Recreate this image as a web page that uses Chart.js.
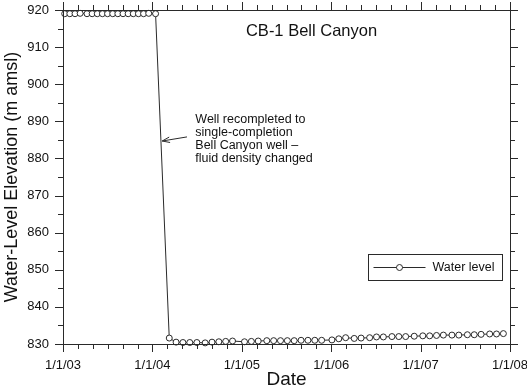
<!DOCTYPE html>
<html>
<head>
<meta charset="utf-8">
<script src="https://cdn.jsdelivr.net/npm/chart.js@4.4.1/dist/chart.umd.min.js"></script>
<style>
  html, body { margin: 0; padding: 0; background: #fff; }
  #wrap { width: 527px; height: 389px; }
</style>
</head>
<body>
<div id="wrap"><canvas id="myChart" width="527" height="389"></canvas></div>
<script>
// mérési dátumok és vízszintek (m amsl)
const dates = [
  "2003-01-08", "2003-01-29", "2003-02-19", "2003-03-12", "2003-04-09", "2003-04-30",
  "2003-05-21", "2003-06-11", "2003-07-02", "2003-07-23", "2003-08-13", "2003-09-03",
  "2003-09-24", "2003-10-15", "2003-11-05", "2003-11-26", "2003-12-17", "2004-01-14",
  "2004-03-10", "2004-04-07", "2004-05-05", "2004-06-02", "2004-07-01", "2004-08-04",
  "2004-09-01", "2004-09-29", "2004-10-27", "2004-11-24", "2005-01-12", "2005-02-09",
  "2005-03-09", "2005-04-13", "2005-05-11", "2005-06-08", "2005-07-06", "2005-08-03",
  "2005-08-31", "2005-09-28", "2005-10-26", "2005-11-23", "2006-01-04", "2006-02-01",
  "2006-03-01", "2006-04-05", "2006-05-03", "2006-06-07", "2006-07-05", "2006-08-02",
  "2006-09-06", "2006-10-04", "2006-11-01", "2006-12-06", "2007-01-10", "2007-02-07",
  "2007-03-07", "2007-04-04", "2007-05-09", "2007-06-06", "2007-07-11", "2007-08-08",
  "2007-09-05", "2007-10-10", "2007-11-07", "2007-12-05"
];
const waterLevel = [
  919.0, 919.0, 919.0, 919.1, 919.0, 919.0,
  919.0, 919.0, 919.0, 919.0, 919.0, 919.0,
  919.0, 919.0, 919.0, 919.0, 919.1, 919.0,
  831.6, 830.5, 830.4, 830.4, 830.4, 830.3,
  830.5, 830.6, 830.7, 830.8, 830.6, 830.7,
  830.8, 830.9, 830.9, 830.9, 830.9, 830.9,
  831.0, 831.0, 831.0, 831.0, 831.1, 831.4,
  831.7, 831.5, 831.6, 831.7, 831.9, 831.9,
  832.0, 832.0, 832.0, 832.1, 832.2, 832.2,
  832.3, 832.4, 832.4, 832.4, 832.5, 832.5,
  832.6, 832.7, 832.7, 832.8
];
const xTickYears = [2003, 2004, 2005, 2006, 2007, 2008];
const xTickLabels = ["1/1/03", "1/1/04", "1/1/05", "1/1/06", "1/1/07", "1/1/08"];
const yTicks = [830, 840, 850, 860, 870, 880, 890, 900, 910, 920];
const chartTitle = "CB-1 Bell Canyon";
const noteLines = ["Well recompleted to", "single-completion", "Bell Canyon well \u2013", "fluid density changed"];
const seriesLabel = "Water level";

// dátum -> tizedes év
function toYear(s) {
  const [y, m, d] = s.split("-").map(Number);
  const t = Date.UTC(y, m - 1, d), t0 = Date.UTC(y, 0, 1), t1 = Date.UTC(y + 1, 0, 1);
  return y + (t - t0) / (t1 - t0);
}
const points = dates.map((d, i) => ({ x: toYear(d), y: waterLevel[i] }));

const FONT = "'Liberation Sans', Arial, sans-serif";
const INK = "#111";
const LINE = "#2a2a2a";

// keret, külső osztásjelek, cím, megjegyzés és jelmagyarázat
const decor = {
  id: "decor",
  afterDatasetsDraw(chart) {
    const { ctx, chartArea: a, scales } = chart;
    const xs = scales.x, ys = scales.y;
    ctx.save();
    ctx.strokeStyle = LINE;
    ctx.lineWidth = 1;
    ctx.strokeRect(a.left + 0.5, a.top + 0.5, a.right - a.left, a.bottom - a.top);

    ctx.beginPath();
    for (let yr = xs.min; yr <= xs.max + 1e-9; yr += 1 / 6) {
      const major = Math.abs(yr - Math.round(yr)) < 1e-6;
      const len = major ? 8 : 5;
      const px = Math.round(xs.getPixelForValue(yr)) + 0.5;
      ctx.moveTo(px, a.bottom); ctx.lineTo(px, a.bottom + len);
      ctx.moveTo(px, a.top); ctx.lineTo(px, a.top - len);
    }
    for (let v = ys.min; v <= ys.max + 1e-9; v += 5) {
      const len = v % 10 === 0 ? 8 : 5;
      const py = Math.round(ys.getPixelForValue(v)) + 0.5;
      ctx.moveTo(a.left, py); ctx.lineTo(a.left - len, py);
      ctx.moveTo(a.right, py); ctx.lineTo(a.right + len, py);
    }
    ctx.stroke();

    // cím
    ctx.fillStyle = INK;
    ctx.font = "16.5px " + FONT;
    ctx.textAlign = "center";
    ctx.textBaseline = "middle";
    ctx.fillText(chartTitle, xs.getPixelForValue(2005.78), ys.getPixelForValue(914.3));

    // megjegyzés nyíllal
    ctx.font = "12.5px " + FONT;
    ctx.textAlign = "left";
    const tx = xs.getPixelForValue(2004.48);
    let ty = ys.getPixelForValue(890.6);
    noteLines.forEach(l => { ctx.fillText(l, tx, ty); ty += 13; });
    const x0 = xs.getPixelForValue(2004.387), y0 = ys.getPixelForValue(885.8);
    const x1 = xs.getPixelForValue(2004.11), y1 = ys.getPixelForValue(884.7);
    const ang = Math.atan2(y1 - y0, x1 - x0);
    ctx.beginPath();
    ctx.moveTo(x0, y0); ctx.lineTo(x1, y1);
    ctx.stroke();
    ctx.beginPath();
    ctx.moveTo(x1, y1);
    ctx.lineTo(x1 - 8 * Math.cos(ang - 0.35), y1 - 8 * Math.sin(ang - 0.35));
    ctx.moveTo(x1, y1);
    ctx.lineTo(x1 - 8 * Math.cos(ang + 0.35), y1 - 8 * Math.sin(ang + 0.35));
    ctx.stroke();

    // jelmagyarázat
    const bx = 368.5, by = 254.5, bw = 134, bh = 26;
    ctx.strokeRect(bx, by, bw, bh);
    const ly = by + bh / 2;
    ctx.beginPath();
    ctx.moveTo(bx + 5, ly); ctx.lineTo(bx + 57, ly);
    ctx.stroke();
    ctx.beginPath();
    ctx.fillStyle = "#fff";
    ctx.arc(bx + 31, ly, 3, 0, Math.PI * 2);
    ctx.fill(); ctx.stroke();
    ctx.fillStyle = INK;
    ctx.font = "12.5px " + FONT;
    ctx.fillText(seriesLabel, bx + 64, ly + 0.5);
    ctx.restore();
  }
};

const ctx = document.getElementById("myChart").getContext("2d");
new Chart(ctx, {
  type: "line",
  data: {
    datasets: [{
      label: seriesLabel,
      data: points,
      borderColor: LINE,
      borderWidth: 1,
      pointRadius: 3,
      pointBorderWidth: 1,
      pointBorderColor: LINE,
      pointBackgroundColor: "#fff",
      tension: 0,
      clip: false
    }]
  },
  options: {
    responsive: false,
    animation: false,
    layout: { padding: { left: 0, top: 10, right: 17, bottom: 0 } },
    plugins: { legend: { display: false }, tooltip: { enabled: false } },
    scales: {
      x: {
        type: "linear",
        min: 2003, max: 2008,
        grid: { display: false, drawTicks: false },
        border: { display: false },
        afterFit(s) { s.height = 45; s.paddingLeft = 0; s.paddingRight = 0; },
        afterBuildTicks(s) { s.ticks = xTickYears.map(v => ({ value: v })); },
        ticks: {
          color: INK, padding: 14, maxRotation: 0, autoSkip: false,
          font: { family: FONT, size: 13 },
          callback: v => xTickLabels[xTickYears.indexOf(v)]
        },
        title: {
          display: true, text: "Date", color: INK,
          font: { family: FONT, size: 19 }, padding: { top: 0, bottom: -2 }
        }
      },
      y: {
        min: 830, max: 920,
        grid: { display: false, drawTicks: false },
        border: { display: false },
        afterFit(s) { s.width = 63; s.paddingTop = 0; s.paddingBottom = 0; },
        afterBuildTicks(s) { s.ticks = yTicks.map(v => ({ value: v })); },
        ticks: {
          color: INK, padding: 14, autoSkip: false,
          font: { family: FONT, size: 13 }
        },
        title: {
          display: true, text: "Water-Level Elevation (m amsl)", color: INK,
          font: { family: FONT, size: 18 }, padding: { top: 1, bottom: 0 }
        }
      }
    }
  },
  plugins: [decor]
});
</script>
</body>
</html>
